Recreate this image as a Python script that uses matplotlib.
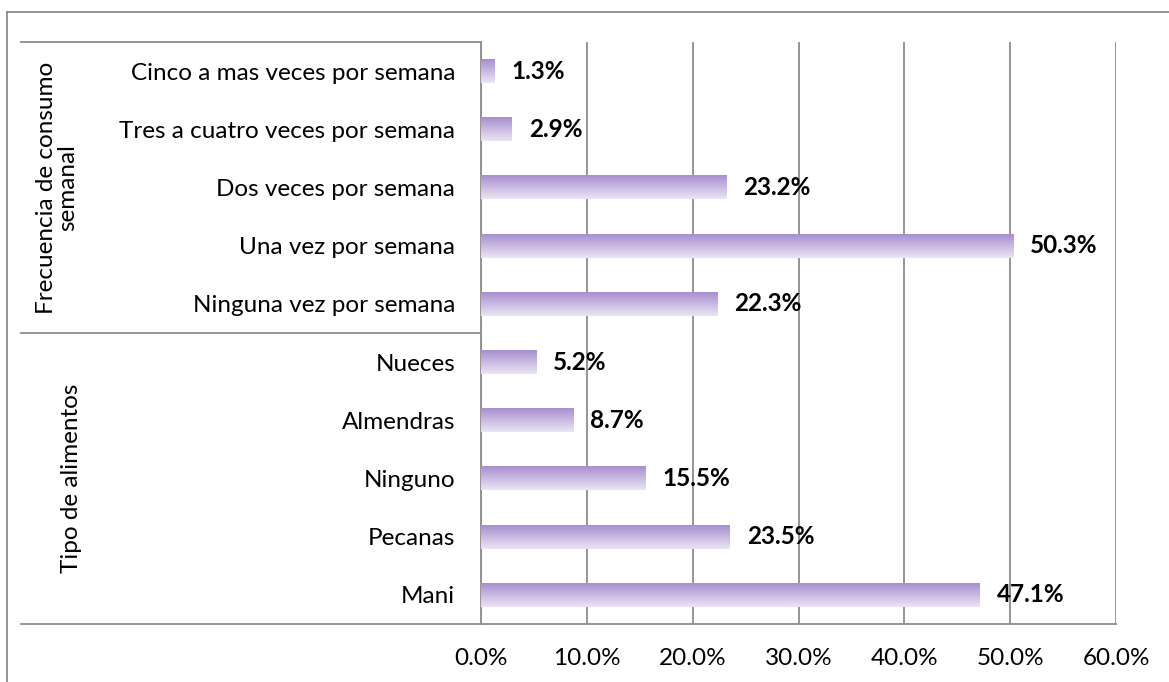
import matplotlib.pyplot as plt
import matplotlib.transforms as mtransforms
from matplotlib.colors import LinearSegmentedColormap
import numpy as np

plt.rcParams['font.family'] = ['Lato', 'DejaVu Sans']

# bottom to top, as drawn
categorias = ['Mani', 'Pecanas', 'Ninguno', 'Almendras', 'Nueces',
              'Ninguna vez por semana', 'Una vez por semana',
              'Dos veces por semana', 'Tres a cuatro veces por semana',
              'Cinco a mas veces por semana']
porcentajes = [47.1, 23.5, 15.5, 8.7, 5.2, 22.3, 50.3, 23.2, 2.9, 1.3]
grupos = ['Tipo de alimentos', 'Frecuencia de consumo\nsemanal']
xticks = [0, 10, 20, 30, 40, 50, 60]

W, H = 1169, 682
fig = plt.figure(figsize=(W / 100, H / 100), dpi=100)
ax = fig.add_axes([481 / W, 1 - 624 / H, (1116 - 481) / W, (624 - 42) / H])

grid_c = '#8c8c8c'
fs = 17.5
cmap = LinearSegmentedColormap.from_list('morado', ['#ebe4f4', '#a88fd0'])
grad = np.linspace(0, 1, 64).reshape(-1, 1)

ypos = np.arange(len(categorias))
bars = ax.barh(ypos, porcentajes, height=0.41, color='none', edgecolor='none', zorder=3)
for b in bars:
    x0, y0 = b.get_x(), b.get_y()
    ax.imshow(grad, extent=[x0, x0 + b.get_width(), y0, y0 + b.get_height()],
              origin='lower', aspect='auto', cmap=cmap, zorder=3)

for y, v in zip(ypos, porcentajes):
    ax.annotate(f'{v:.1f}%', (v, y), xytext=(17, 0), textcoords='offset pixels',
                ha='left', va='center', fontsize=fs, fontweight='bold', color='black')

ax.set_xlim(0, 60)
ax.set_ylim(-0.5, len(categorias) - 0.5)
ax.set_xticks(xticks)
ax.set_xticklabels([f'{t:.1f}%' for t in xticks])
ax.set_yticks(ypos)
ax.set_yticklabels(categorias)
ax.tick_params(axis='both', length=0, labelsize=fs, colors='black')
ax.tick_params(axis='y', pad=18.5)
ax.tick_params(axis='x', pad=17)
ax.grid(axis='x', color=grid_c, linewidth=1.3, zorder=1)
for s in ['top', 'right']:
    ax.spines[s].set_visible(False)
for s in ['left', 'bottom']:
    ax.spines[s].set_color(grid_c)
    ax.spines[s].set_linewidth(1.3)

# grouping box to the left of the axis
tr = mtransforms.blended_transform_factory(ax.transAxes, ax.transData)
xl = (21 - 481) / (1116 - 481)
for yy in [-0.5, 4.5, len(categorias) - 0.5]:
    ax.plot([xl, 0], [yy, yy], transform=tr, color=grid_c, lw=1.3, clip_on=False)
ax.text((72 - 481) / 635, 2, grupos[0], transform=tr, rotation=90, ha='center',
        va='center', fontsize=fs)
ax.text((57 - 481) / 635, 7, grupos[1], transform=tr, rotation=90, ha='center',
        va='center', fontsize=fs, linespacing=1.05, multialignment='center')

# outer chart border
fig.add_artist(plt.Line2D([7 / W, 7 / W], [0, 1 - 12 / H], color=grid_c, lw=1.3))
fig.add_artist(plt.Line2D([7 / W, 1], [1 - 12 / H, 1 - 12 / H], color=grid_c, lw=1.3))

fig.savefig('out.png', dpi=100)
